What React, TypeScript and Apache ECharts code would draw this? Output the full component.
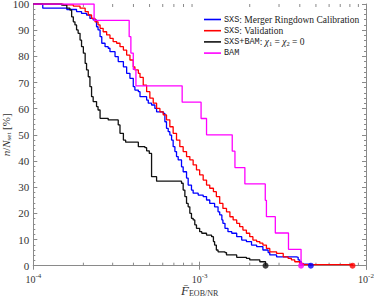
import React, { useEffect, useRef } from "react";
import * as echarts from "echarts";

// ---- data ----
const blueX = [1.0e-4, 1.14e-4, 1.59e-4, 1.82e-4, 1.91e-4, 1.95e-4, 2.09e-4, 2.19e-4, 2.29e-4, 2.40e-4, 2.45e-4, 2.52e-4, 2.58e-4, 2.70e-4, 2.82e-4, 2.89e-4, 3.10e-4, 3.24e-4, 3.48e-4, 3.64e-4, 3.81e-4, 3.99e-4, 4.08e-4, 4.28e-4, 4.38e-4, 4.80e-4, 4.91e-4, 5.14e-4, 5.38e-4, 5.51e-4, 6.04e-4, 6.18e-4, 6.32e-4, 6.47e-4, 6.62e-4, 6.78e-4, 6.93e-4, 7.10e-4, 7.26e-4, 7.43e-4, 7.78e-4, 7.96e-4, 8.34e-4, 8.53e-4, 8.93e-4, 9.14e-4, 9.80e-4, 1.05e-3, 1.10e-3, 1.15e-3, 1.23e-3, 1.29e-3, 1.32e-3, 1.36e-3, 1.38e-3, 1.42e-3, 1.48e-3, 1.56e-3, 1.67e-3, 1.79e-3, 1.91e-3, 2.05e-3, 2.20e-3, 2.40e-3, 2.58e-3, 2.64e-3, 2.90e-3, 3.82e-3, 3.91e-3, 4.00e-3, 4.09e-3, 4.66e-3];
const blueY = [100, 98.4, 97.9, 97.1, 97.1, 96.4, 95.8, 94.5, 93.9, 91.3, 90.1, 87.5, 85.0, 83.7, 83.1, 81.8, 79.9, 78.0, 76.0, 73.5, 71.6, 68.4, 67.1, 66.5, 64.6, 63.3, 62.1, 61.4, 60.1, 58.8, 58.2, 55.0, 52.5, 51.2, 49.9, 48.0, 45.5, 43.6, 41.7, 40.4, 37.8, 35.9, 33.5, 30.8, 28.9, 27.7, 27.0, 26.4, 25.1, 23.8, 22.5, 20.6, 19.4, 17.5, 16.2, 14.3, 13.0, 12.4, 11.1, 9.8, 9.2, 7.9, 7.3, 6.0, 5.0, 4.1, 3.4, 3.2, 2.2, 1.5, 0.6, 0];

const redX = [1.0e-4, 1.51e-4, 1.74e-4, 1.91e-4, 2.05e-4, 2.14e-4, 2.24e-4, 2.35e-4, 2.45e-4, 2.52e-4, 2.63e-4, 2.76e-4, 2.89e-4, 3.02e-4, 3.17e-4, 3.32e-4, 3.48e-4, 3.64e-4, 3.81e-4, 3.99e-4, 4.08e-4, 4.28e-4, 4.38e-4, 4.58e-4, 4.80e-4, 5.02e-4, 5.26e-4, 5.51e-4, 5.77e-4, 6.04e-4, 6.32e-4, 6.62e-4, 6.93e-4, 7.26e-4, 7.60e-4, 7.96e-4, 8.34e-4, 8.73e-4, 9.14e-4, 9.57e-4, 1.00e-3, 1.05e-3, 1.10e-3, 1.15e-3, 1.21e-3, 1.26e-3, 1.32e-3, 1.38e-3, 1.45e-3, 1.52e-3, 1.59e-3, 1.67e-3, 1.74e-3, 1.82e-3, 1.91e-3, 2.00e-3, 2.09e-3, 2.20e-3, 2.30e-3, 2.40e-3, 2.52e-3, 2.64e-3, 2.90e-3, 3.18e-3, 3.40e-3, 3.56e-3, 3.73e-3, 4.00e-3, 4.19e-3, 8.3e-3];
const redY = [100, 99.7, 99.2, 98.4, 97.1, 95.8, 94.5, 93.2, 92.0, 90.7, 89.4, 88.2, 86.9, 85.6, 85.0, 83.7, 82.4, 80.5, 78.6, 76.0, 74.8, 73.5, 72.0, 69.0, 66.5, 64.0, 62.1, 60.1, 58.8, 57.6, 55.7, 53.1, 50.6, 48.0, 45.5, 43.6, 41.7, 40.4, 38.5, 36.6, 34.7, 32.7, 30.8, 29.6, 28.3, 26.4, 23.8, 21.9, 20.6, 18.7, 17.5, 16.2, 14.9, 13.6, 12.4, 11.1, 9.8, 9.2, 8.6, 7.9, 6.6, 5.3, 4.7, 3.4, 2.8, 2.2, 1.5, 0.9, 0.4, 0];

const blackX = [1.0e-4, 1.48e-4, 1.59e-4, 1.66e-4, 1.70e-4, 1.74e-4, 1.78e-4, 1.82e-4, 1.86e-4, 1.91e-4, 1.95e-4, 2.00e-4, 2.05e-4, 2.09e-4, 2.14e-4, 2.19e-4, 2.24e-4, 2.29e-4, 2.40e-4, 2.45e-4, 2.52e-4, 2.82e-4, 3.24e-4, 3.32e-4, 3.48e-4, 3.59e-4, 4.28e-4, 4.69e-4, 4.80e-4, 4.98e-4, 5.14e-4, 5.51e-4, 7.78e-4, 7.96e-4, 8.15e-4, 8.34e-4, 8.53e-4, 8.73e-4, 8.93e-4, 9.14e-4, 9.35e-4, 9.57e-4, 1.00e-3, 1.03e-3, 1.10e-3, 1.18e-3, 1.21e-3, 1.23e-3, 1.26e-3, 1.29e-3, 1.42e-3, 1.45e-3, 1.67e-3, 1.91e-3, 2.00e-3, 2.30e-3, 2.49e-3];
const blackY = [100, 99.6, 98.4, 97.7, 95.1, 93.2, 92.0, 90.1, 88.8, 86.2, 83.7, 81.2, 77.3, 74.8, 72.2, 68.4, 64.6, 62.7, 60.8, 59.5, 56.3, 55.7, 53.8, 50.6, 48.0, 47.2, 45.5, 45.1, 43.9, 42.9, 34.0, 32.3, 31.5, 28.9, 26.4, 23.8, 22.5, 20.0, 18.1, 17.5, 15.6, 14.3, 13.0, 12.4, 11.7, 11.1, 9.2, 7.9, 6.0, 5.3, 5.0, 4.1, 3.2, 2.8, 2.2, 1.5, 0];

const pinkX = [1.0e-4, 2.32e-4, 3.77e-4, 3.86e-4, 3.99e-4, 4.14e-4, 7.85e-4, 1.02e-3, 1.10e-3, 1.57e-3, 1.63e-3, 1.87e-3, 2.48e-3, 2.52e-3, 2.85e-3, 3.42e-3, 4.07e-3];
const pinkY = [100, 93.75, 87.5, 81.25, 75, 68.75, 62.5, 56.25, 50, 43.75, 37.5, 31.25, 25, 18.75, 12.5, 6.25, 0];

const endDots = [
  { x: 2.49e-3, color: "#111111" },
  { x: 4.07e-3, color: "#ff00ff" },
  { x: 4.66e-3, color: "#0000ff" },
  { x: 8.3e-3, color: "#ff0000" },
];

const xMinorTicks = [2e-4, 3e-4, 4e-4, 5e-4, 6e-4, 7e-4, 8e-4, 9e-4, 2e-3, 3e-3, 4e-3, 5e-3, 6e-3, 7e-3, 8e-3, 9e-3];

const names = ["SXS: Merger Ringdown Calibration", "SXS: Validation", "SXS+BAM: χ1 = χ2 = 0", "BAM"];
const legendRich: Record<string, string> = {
  [names[0]]: "{m|SXS}: Merger Ringdown Calibration",
  [names[1]]: "{m|SXS}: Validation",
  [names[2]]: "{m|SXS+BAM}: {i|χ}{s|1} = {i|χ}{s|2} = 0",
  [names[3]]: "{m|BAM}",
};

const SERIF = '"Liberation Serif", "Times New Roman", serif';
const MONO = '"Liberation Mono", "DejaVu Sans Mono", monospace';
const AXIS_COLOR = "#8a8a8a";
const TEXT_COLOR = "#333333";

const zip = (xs: number[], ys: number[]) => xs.map((x, i) => [x, ys[i]]);

export default function App() {
  const ref = useRef<HTMLDivElement>(null);
  useEffect(() => {
    if (!ref.current) return;
    const chart = echarts.init(ref.current, undefined, { renderer: "svg" });
    const lineSeries = (name: string, data: number[][], color: string) => ({
      name,
      type: "line",
      step: "end",
      data,
      symbol: "none",
      showSymbol: false,
      xAxisIndex: 0,
      yAxisIndex: 0,
      lineStyle: { color, width: 1.3 },
      itemStyle: { color },
    });
    chart.setOption({
      animation: false,
      backgroundColor: "#ffffff",
      textStyle: { fontFamily: SERIF },
      grid: { left: 33.3, right: 8, top: 4, bottom: 35.3, containLabel: false, outerBoundsMode: "none" },
      legend: {
        data: names.map((n) => ({ name: n, icon: "rect" })),
        orient: "vertical",
        left: 199,
        top: 9.5,
        itemWidth: 17,
        itemHeight: 1.6,
        itemGap: 1.2,
        formatter: (n: string) => legendRich[n] || n,
        textStyle: {
          fontFamily: SERIF,
          fontSize: 9.5,
          color: "#222",
          padding: [0, 0, 0, -2],
          rich: {
            m: { fontFamily: MONO, fontSize: 8.5, color: "#222" },
            i: { fontFamily: SERIF, fontStyle: "italic", fontSize: 9.5, color: "#222" },
            s: { fontFamily: SERIF, fontSize: 6.5, color: "#222", padding: [4, 0, 0, 0] },
          },
        },
      },
      xAxis: [
        {
          type: "log",
          logBase: 10,
          min: 1e-4,
          max: 1e-2,
          position: "bottom",
          name: "{f|F̄}{s|EOB/NR}",
          nameLocation: "middle",
          nameGap: 18,
          nameMoveOverlap: false,
          nameTextStyle: {
            rich: {
              f: { fontFamily: SERIF, fontStyle: "italic", fontSize: 13, color: TEXT_COLOR },
              s: { fontFamily: SERIF, fontSize: 8, color: TEXT_COLOR, padding: [6, 0, 0, 0] },
            },
          },
          axisLine: { show: true, lineStyle: { color: AXIS_COLOR, width: 1 } },
          axisTick: { show: true, inside: true, length: 4, lineStyle: { color: AXIS_COLOR } },
          splitLine: { show: false },
          axisLabel: {
            margin: 7,
            formatter: (v: number) => `{b|10}{p|${Math.round(Math.log10(v))}}`,
            rich: {
              b: { fontFamily: SERIF, fontSize: 10, color: TEXT_COLOR },
              p: { fontFamily: SERIF, fontSize: 7, color: TEXT_COLOR, padding: [0, 0, 6, 0] },
            },
          },
        },
        {
          type: "log",
          logBase: 10,
          min: 1e-4,
          max: 1e-2,
          position: "top",
          axisLine: { show: true, lineStyle: { color: AXIS_COLOR, width: 1 } },
          axisTick: { show: true, inside: true, length: 4, lineStyle: { color: AXIS_COLOR } },
          axisLabel: { show: false },
          splitLine: { show: false },
        },
      ],
      yAxis: [
        {
          type: "value",
          min: 0,
          max: 100,
          interval: 10,
          position: "left",
          name: "{i|n}/{i|N}{s|set} [%]",
          nameLocation: "middle",
          nameRotate: 90,
          nameGap: 21,
          nameMoveOverlap: false,
          nameTextStyle: {
            rich: {
              i: { fontFamily: SERIF, fontStyle: "italic", fontSize: 11, color: TEXT_COLOR },
              s: { fontFamily: SERIF, fontSize: 7, color: TEXT_COLOR, padding: [5, 0, 0, 0] },
            },
            fontFamily: SERIF,
            fontSize: 11,
            color: TEXT_COLOR,
          },
          axisLine: { show: true, lineStyle: { color: AXIS_COLOR, width: 1 } },
          axisTick: { show: true, inside: true, length: 4, lineStyle: { color: AXIS_COLOR } },
          minorTick: { show: true, splitNumber: 5, length: 2, lineStyle: { color: AXIS_COLOR } },
          splitLine: { show: false },
          axisLabel: { fontFamily: SERIF, fontSize: 11, color: TEXT_COLOR, margin: 4 },
        },
        {
          type: "value",
          min: 0,
          max: 100,
          interval: 10,
          position: "right",
          axisLine: { show: true, lineStyle: { color: AXIS_COLOR, width: 1 } },
          axisTick: { show: true, inside: true, length: 4, lineStyle: { color: AXIS_COLOR } },
          minorTick: { show: true, splitNumber: 5, length: 2, lineStyle: { color: AXIS_COLOR } },
          splitLine: { show: false },
          axisLabel: { show: false },
        },
      ],
      series: [
        {
          type: "custom",
          silent: true,
          xAxisIndex: 0,
          yAxisIndex: 0,
          data: xMinorTicks.map((v) => [v, 0]),
          renderItem: (_p: any, api: any) => {
            const x = api.value(0);
            const b = api.coord([x, 0]);
            const t = api.coord([x, 100]);
            const st = { stroke: AXIS_COLOR, lineWidth: 1 };
            return {
              type: "group",
              children: [
                { type: "line", shape: { x1: b[0], y1: b[1], x2: b[0], y2: b[1] - 3 }, style: st },
                { type: "line", shape: { x1: t[0], y1: t[1], x2: t[0], y2: t[1] + 3 }, style: st },
              ],
            };
          },
          z: 1,
        },
        lineSeries(names[0], zip(blueX, blueY), "#0000ff"),
        lineSeries(names[1], zip(redX, redY), "#ff0000"),
        lineSeries(names[2], zip(blackX, blackY), "#111111"),
        lineSeries(names[3], zip(pinkX, pinkY), "#ff00ff"),
        {
          type: "scatter",
          name: "ends",
          xAxisIndex: 0,
          yAxisIndex: 0,
          symbol: "circle",
          symbolSize: 6,
          data: endDots.map((d) => ({ value: [d.x, 0], itemStyle: { color: d.color } })),
          z: 5,
          clip: false,
        },
      ],
    });
    return () => chart.dispose();
  }, []);
  return (
    <div
      ref={ref}
      style={{ position: "fixed", left: 0, top: 0, width: 374, height: 301, background: "#fff" }}
    />
  );
}
